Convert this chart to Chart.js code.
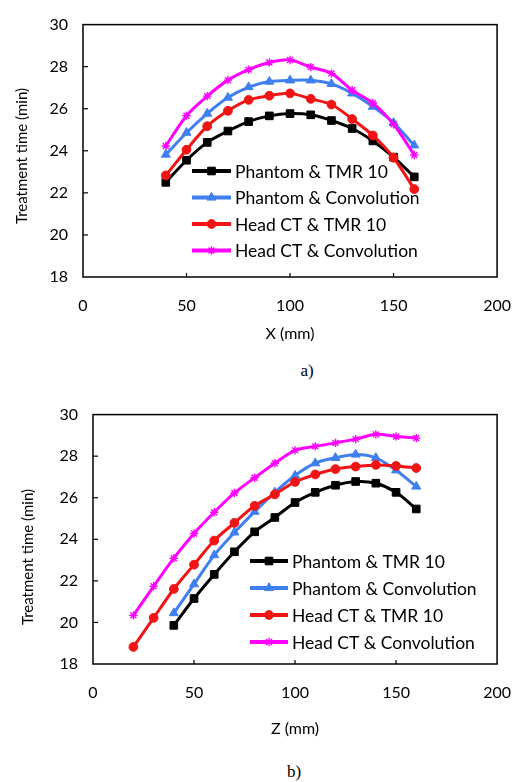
<!DOCTYPE html>
<html>
<head>
<meta charset="utf-8">
<script src="https://cdn.jsdelivr.net/npm/chart.js@4"></script>
<style>
  body { margin: 0; background: #fff; width: 530px; height: 782px; position: relative; overflow: hidden; }
  canvas { position: absolute; left: 0; }
  #chartA { top: 0; }
  #chartB { top: 390px; }
  .cap { position: absolute; font-family: "Liberation Serif", serif; font-size: 17px; color: #000; transform: translateX(-50%); }
</style>
</head>
<body>
<canvas id="chartA" width="530" height="345"></canvas>
<div class="cap" style="left:307px; top:361px;">a)</div>
<canvas id="chartB" width="530" height="350"></canvas>
<div class="cap" style="left:294px; top:762px;">b)</div>

<script>
// ---- data ----
const seriesNames = ['Phantom & TMR 10', 'Phantom & Convolution', 'Head CT & TMR 10', 'Head CT & Convolution'];
const seriesColors = ['#000000', '#3f7fef', '#f01414', '#ff00ff'];
const seriesMarkers = ['rect', 'triangle', 'circle', 'star'];

const yTicks = [18, 20, 22, 24, 26, 28, 30];
const xTicks = [0, 50, 100, 150, 200];

// a) lateral X profile
const xA = [40, 50, 60, 70, 80, 90, 100, 110, 120, 130, 140, 150, 160];
const aPhantomTmr = [22.5, 23.55, 24.4, 24.94, 25.39, 25.66, 25.77, 25.71, 25.44, 25.06, 24.47, 23.7, 22.76];
const aPhantomConv = [23.82, 24.86, 25.77, 26.53, 27.03, 27.29, 27.35, 27.35, 27.18, 26.73, 26.1, 25.33, 24.26];
const aHeadTmr = [22.83, 24.05, 25.17, 25.9, 26.42, 26.62, 26.73, 26.47, 26.2, 25.51, 24.73, 23.67, 22.18];
const aHeadConv = [24.23, 25.67, 26.6, 27.36, 27.86, 28.2, 28.32, 27.98, 27.68, 26.88, 26.27, 25.26, 23.8];

// b) depth Z profile
const zPhantom = [40, 50, 60, 70, 80, 90, 100, 110, 120, 130, 140, 150, 160];
const zHead = [20, 30, 40, 50, 60, 70, 80, 90, 100, 110, 120, 130, 140, 150, 160];
const bPhantomTmr = [19.86, 21.15, 22.31, 23.4, 24.36, 25.05, 25.77, 26.26, 26.6, 26.78, 26.7, 26.26, 25.46];
const bPhantomConv = [20.45, 21.84, 23.24, 24.33, 25.33, 26.26, 27.07, 27.66, 27.92, 28.08, 27.92, 27.32, 26.54];
const bHeadTmr = [18.82, 20.22, 21.61, 22.78, 23.94, 24.79, 25.61, 26.16, 26.76, 27.12, 27.38, 27.5, 27.58, 27.53, 27.43];
const bHeadConv = [20.34, 21.74, 23.09, 24.28, 25.3, 26.23, 26.96, 27.66, 28.28, 28.47, 28.64, 28.82, 29.05, 28.95, 28.87];

const FONT = 'Lato, "Open Sans", sans-serif';

function markerOpts(i) {
    const style = seriesMarkers[i];
    const sizes = { rect: 5.4, triangle: 5.2, circle: 4.4, star: 4.2 };
    return {
        pointStyle: style,
        radius: sizes[style],
        rotation: 0,
        borderWidth: style === 'star' ? 1.4 : 1
    };
}

function makeDatasets(xs, ys) {
    return ys.map((vals, i) => {
        const m = markerOpts(i);
        return {
            label: seriesNames[i],
            data: vals.map((v, k) => ({ x: xs[i][k], y: v })),
            borderColor: seriesColors[i],
            backgroundColor: seriesColors[i],
            borderWidth: 3,
            tension: 0.3,
            pointStyle: m.pointStyle,
            pointRadius: m.radius,
            pointBorderWidth: m.borderWidth,
            pointBackgroundColor: seriesColors[i],
            pointBorderColor: seriesColors[i],
            order: ys.length - i
        };
    });
}

// frame, inner tick marks, side title and legend inside the plot
const decorations = {
    id: 'decorations',
    afterDraw(chart, args, opts) {
        const { ctx, chartArea: ca, scales } = chart;
        ctx.save();
        ctx.strokeStyle = '#000';
        ctx.lineWidth = 1.5;
        ctx.strokeRect(ca.left, ca.top, ca.right - ca.left, ca.bottom - ca.top);

        ctx.lineWidth = 1.2;
        xTicks.slice(1, -1).forEach(v => {
            const px = scales.x.getPixelForValue(v);
            ctx.beginPath(); ctx.moveTo(px, ca.bottom); ctx.lineTo(px, ca.bottom - 4); ctx.stroke();
        });
        yTicks.slice(1, -1).forEach(v => {
            const py = scales.y.getPixelForValue(v);
            ctx.beginPath(); ctx.moveTo(ca.left, py); ctx.lineTo(ca.left + 5, py); ctx.stroke();
        });

        // y title
        ctx.save();
        ctx.translate(opts.titleX, opts.titleY);
        ctx.rotate(-Math.PI / 2);
        ctx.font = '15px ' + FONT;
        ctx.fillStyle = '#000';
        ctx.textAlign = 'center';
        ctx.textBaseline = 'middle';
        ctx.fillText('Treatment time (min)', 0, 0);
        ctx.restore();

        // legend
        ctx.font = '17.5px ' + FONT;
        ctx.textBaseline = 'middle';
        ctx.textAlign = 'left';
        chart.data.datasets.forEach((ds, i) => {
            const y = opts.legY + i * opts.legGap;
            ctx.strokeStyle = ds.borderColor;
            ctx.lineWidth = 4;
            ctx.beginPath(); ctx.moveTo(opts.legX, y); ctx.lineTo(opts.legX + opts.legLen, y); ctx.stroke();
            const m = markerOpts(i);
            ctx.fillStyle = ds.borderColor;
            ctx.lineWidth = m.borderWidth;
            Chart.helpers.drawPoint(ctx, m, opts.legX + opts.legLen / 2, y);
            ctx.fillStyle = '#000';
            ctx.fillText(ds.label, opts.legX + opts.legLen + 4, y + 1);
        });
        ctx.restore();
    }
};

function buildChart(id, datasets, axisName, box, deco) {
    return new Chart(document.getElementById(id), {
        type: 'line',
        data: { datasets: datasets },
        plugins: [decorations],
        options: {
            responsive: false,
            animation: false,
            layout: { padding: { top: box.top, right: box.right, left: 0, bottom: 0 } },
            plugins: {
                legend: { display: false },
                tooltip: { enabled: false },
                decorations: deco
            },
            scales: {
                x: {
                    type: 'linear',
                    min: 0,
                    max: 200,
                    afterBuildTicks: s => { s.ticks = xTicks.map(v => ({ value: v })); },
                    afterFit: s => { s.height = box.xHeight; },
                    grid: { display: false, drawTicks: false },
                    border: { display: false },
                    ticks: { color: '#000', padding: 19, maxRotation: 0, font: { family: FONT, size: 16 } },
                    title: { display: true, text: axisName, color: '#000', padding: { top: 0, bottom: 2 }, font: { family: FONT, size: 16 } }
                },
                y: {
                    min: 18,
                    max: 30,
                    afterBuildTicks: s => { s.ticks = yTicks.map(v => ({ value: v })); },
                    afterFit: s => { s.width = box.left; },
                    grid: { display: false, drawTicks: false },
                    border: { display: false },
                    ticks: { color: '#000', padding: 15, font: { family: FONT, size: 16 } }
                }
            }
        }
    });
}

buildChart('chartA',
    makeDatasets([xA, xA, xA, xA], [aPhantomTmr, aPhantomConv, aHeadTmr, aHeadConv]),
    'X (mm)',
    { top: 12, right: 15, left: 83, xHeight: 68 },
    { titleX: 22, titleY: 156, legX: 192, legY: 171, legGap: 26.5, legLen: 39 });

buildChart('chartB',
    makeDatasets([zPhantom, zPhantom, zHead, zHead], [bPhantomTmr, bPhantomConv, bHeadTmr, bHeadConv]),
    'Z (mm)',
    { top: 16, right: 17, left: 93, xHeight: 76 },
    { titleX: 28, titleY: 167, legX: 250, legY: 171, legGap: 27, legLen: 38 });
</script>
</body>
</html>
